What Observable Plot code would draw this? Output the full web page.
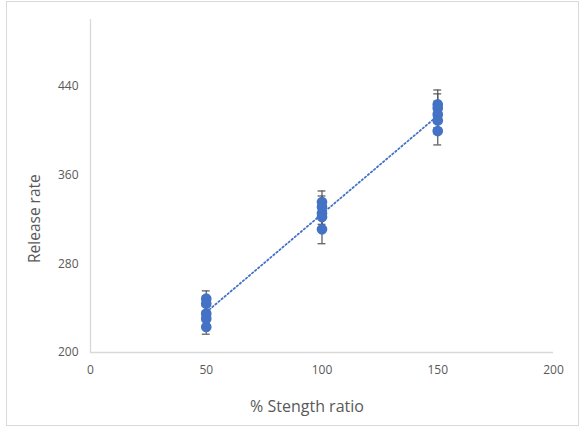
<!DOCTYPE html>
<html>
<head>
<meta charset="utf-8">
<script src="https://cdn.jsdelivr.net/npm/d3@7"></script>
<script src="https://cdn.jsdelivr.net/npm/@observablehq/plot@0.6"></script>
<style>
  body { margin: 0; background: #fff; }
  #wrap { position: relative; width: 579px; height: 427px; }
  #border { position: absolute; left: 6px; top: 1px; width: 571px; height: 423px; border: 1px solid #d9d9d9; pointer-events: none; }
</style>
</head>
<body>
<div id="wrap"><div id="border"></div></div>
<script>
// Measured release rate for each strength ratio, with per-measurement error
const strength = [50, 50, 50, 50, 50, 100, 100, 100, 100, 100, 150, 150, 150, 150, 150];
const release  = [248.5, 244, 235, 230.5, 223, 335.5, 331, 325.5, 322, 311, 423.5, 420, 414.5, 409, 399.5];
const errors   = [7, 7, 7, 7, 6.5, 10, 10, 10, 10, 13, 13, 13, 12, 12, 12.5];
const xTicks = [0, 50, 100, 150, 200];
const yTicks = [200, 280, 360, 440];

const data = strength.map((x, i) => ({x, y: release[i], err: errors[i]}));

const blue = "#4472C4";
const grey = "#595959";
const capHalf = 1.7; // half-width of error-bar caps, in x units

const chart = Plot.plot({
  width: 579,
  height: 427,
  marginLeft: 90,
  marginRight: 26,
  marginTop: 19,
  marginBottom: 75,
  style: {fontFamily: "'Open Sans', sans-serif", fontSize: "12px", color: grey, background: "transparent"},
  x: {domain: [0, 200]},
  y: {domain: [200, 500]},
  marks: [
    // axis lines
    Plot.ruleY([200], {stroke: "#d9d9d9", strokeWidth: 1.3}),
    Plot.ruleX([0], {stroke: "#d9d9d9", strokeWidth: 1.3}),
    Plot.axisX({ticks: xTicks, tickSize: 0, tickPadding: 13, label: null, fill: grey}),
    Plot.axisY({ticks: yTicks, tickSize: 0, tickPadding: 12, label: null, fill: grey}),
    // linear trendline
    Plot.linearRegressionY(data, {x: "x", y: "y", ci: 0, stroke: blue, strokeWidth: 1.8, strokeDasharray: "1.5,2.5"}),
    // error bars
    Plot.ruleX(data, {x: "x", y1: d => d.y - d.err, y2: d => d.y + d.err, stroke: "#555", strokeWidth: 1.2}),
    Plot.ruleY(data, {x1: d => d.x - capHalf, x2: d => d.x + capHalf, y: d => d.y + d.err, stroke: "#555", strokeWidth: 1.2}),
    Plot.ruleY(data, {x1: d => d.x - capHalf, x2: d => d.x + capHalf, y: d => d.y - d.err, stroke: "#555", strokeWidth: 1.2}),
    // measurements
    Plot.dot(data, {x: "x", y: "y", r: 4.6, fill: blue, stroke: blue}),
    // axis titles
    Plot.text(["Release rate"], {frameAnchor: "left", rotate: -90, dx: -55, dy: 77, fontSize: 15.5, fill: grey}),
    Plot.text(["% Stength ratio"], {frameAnchor: "bottom", dx: -15, dy: 59, fontSize: 16, fill: grey})
  ]
});
document.getElementById("wrap").prepend(chart);
</script>
</body>
</html>
